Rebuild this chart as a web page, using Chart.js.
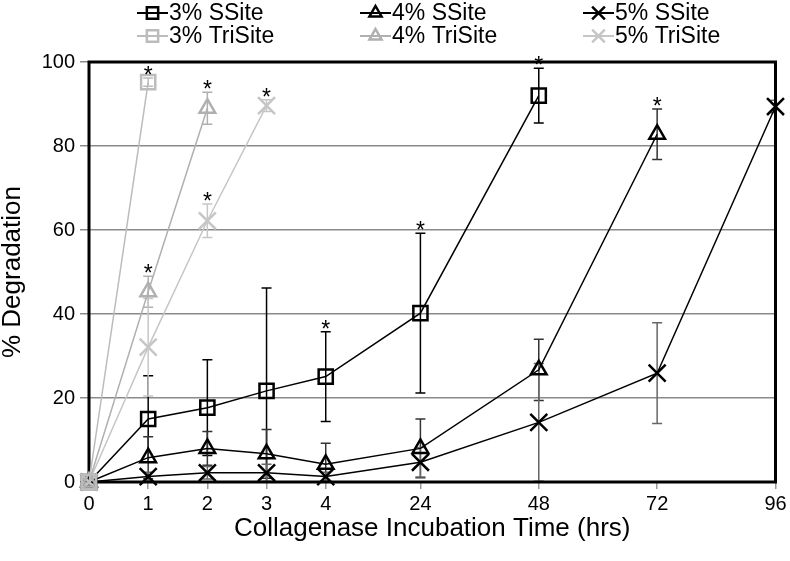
<!DOCTYPE html>
<html>
<head>
<meta charset="utf-8">
<script src="https://cdn.jsdelivr.net/npm/chart.js@4.4.1/dist/chart.umd.min.js"></script>
<style>
  html, body { margin: 0; padding: 0; background: #fff; }
  #wrap { width: 790px; height: 561px; }
</style>
</head>
<body>
<div id="wrap"><canvas id="c" width="790" height="561"></canvas></div>
<script>
// ---- categories / tick labels ----
const hours = ['0', '1', '2', '3', '4', '24', '48', '72', '96'];
// axis placement of each time label (the original axis is not evenly spaced)
const axisPos = [0, 1, 2, 3, 4, 5.6, 7.6, 9.6, 11.6];
const yTicks = [0, 20, 40, 60, 80, 100];

// ---- series (mean % degradation) ----
const ss3 = [0, 15.0, 17.7, 21.7, 25.1, 40.2, 92.0, null, null];
const ss4 = [0, 5.8, 8.0, 6.7, 4.2, 8.0, 26.7, 82.8, null];
const ss5 = [0, 1.3, 2.2, 2.2, 1.3, 4.7, 14.2, 25.9, 89.4];
const tri3 = [0, 95.2];
const tri4 = [0, 45.3, 89.0];
const tri5 = [0, 32.1, 62.2, 89.6];

// ---- error (± SD) ----
const ss3Err = [0, 10.3, 11.4, 24.5, 10.7, 19.0, 6.5, null, null];
const ss4Err = [0, 5.0, 4.0, 5.8, 5.0, 7.0, 7.3, 6.0, null];
const ss5Err = [0, 1.0, 1.5, 2.0, 1.0, 3.5, 14.0, 12.0, 1.5];
const tri3Err = [0, 1.0];
const tri4Err = [0, 3.7, 3.8];
const tri5Err = [0, 11.6, 4.0, 1.4];

// ---- significance markers (*) ----
const ss3Sig = [0, 0, 0, 0, 1, 1, 1, 0, 0];
const ss4Sig = [0, 0, 0, 0, 0, 0, 0, 1, 0];
const ss5Sig = [0, 0, 0, 0, 0, 0, 0, 0, 0];
const tri3Sig = [0, 1];
const tri4Sig = [0, 1, 1];
const tri5Sig = [0, 0, 1, 1];

const FONT = "'Liberation Sans', Arial, sans-serif";

function pts(vals) {
  const out = [];
  vals.forEach((v, i) => { if (v !== null && v !== undefined) out.push({ x: axisPos[i], y: v }); });
  return out;
}

function ds(label, vals, errs, sig, color, style, radius, lineW, errColor, order) {
  return {
    label, data: pts(vals), errs, sig, errColor,
    borderColor: color, backgroundColor: 'rgba(0,0,0,0)',
    pointBorderColor: color, pointBackgroundColor: 'rgba(0,0,0,0)',
    pointStyle: style, pointRadius: radius, pointHoverRadius: radius,
    pointBorderWidth: 2.5, borderWidth: lineW, tension: 0, clip: false, order
  };
}

const datasets = [
  ds('3% SSite', ss3, ss3Err, ss3Sig, '#000000', 'rect', 10, 1.5, '#000000', 3),
  ds('4% SSite', ss4, ss4Err, ss4Sig, '#000000', 'triangle', 9, 1.5, '#333333', 4),
  ds('5% SSite', ss5, ss5Err, ss5Sig, '#000000', 'crossRot', 12, 1.5, '#666666', 5),
  ds('3% TriSite', tri3, tri3Err, tri3Sig, '#bcbcbc', 'rect', 10, 1.5, '#bcbcbc', 0),
  ds('4% TriSite', tri4, tri4Err, tri4Sig, '#b0b0b0', 'triangle', 9, 1.5, '#b0b0b0', 1),
  ds('5% TriSite', tri5, tri5Err, tri5Sig, '#c6c6c6', 'crossRot', 12, 1.5, '#c6c6c6', 2)
];

function drawMarker(ctx, style, x, y, r) {
  ctx.beginPath();
  if (style === 'rect') {
    const s = r * Math.SQRT1_2;
    ctx.rect(x - s, y - s, 2 * s, 2 * s);
  } else if (style === 'triangle') {
    ctx.moveTo(x, y - r);
    ctx.lineTo(x + r * Math.sin(2 * Math.PI / 3), y - r * Math.cos(2 * Math.PI / 3));
    ctx.lineTo(x + r * Math.sin(4 * Math.PI / 3), y - r * Math.cos(4 * Math.PI / 3));
    ctx.closePath();
  } else if (style === 'crossRot') {
    const o = r * Math.SQRT1_2;
    ctx.moveTo(x - o, y - o); ctx.lineTo(x + o, y + o);
    ctx.moveTo(x - o, y + o); ctx.lineTo(x + o, y - o);
  }
  ctx.stroke();
}

const framePlugin = {
  id: 'frameAndErrors',
  beforeDatasetsDraw(chart) {
    const { ctx, chartArea: a, scales: { x, y } } = chart;
    // error bars
    ctx.save();
    ctx.beginPath();
    ctx.rect(a.left, a.top - 1, a.right - a.left, a.bottom - a.top + 2);
    ctx.clip();
    chart.data.datasets.forEach((d) => {
      ctx.strokeStyle = d.errColor;
      ctx.lineWidth = 1.5;
      d.data.forEach((p, i) => {
        const e = d.errs[i];
        if (!e) return;
        const px = x.getPixelForValue(p.x);
        const t = y.getPixelForValue(p.y + e);
        const b = y.getPixelForValue(p.y - e);
        ctx.beginPath();
        ctx.moveTo(px, t); ctx.lineTo(px, b);
        ctx.moveTo(px - 5, t); ctx.lineTo(px + 5, t);
        ctx.moveTo(px - 5, b); ctx.lineTo(px + 5, b);
        ctx.stroke();
      });
    });
    ctx.restore();
    // plot frame
    ctx.save();
    ctx.strokeStyle = '#000';
    ctx.lineWidth = 3;
    ctx.strokeRect(a.left, a.top, a.right - a.left, a.bottom - a.top);
    ctx.restore();
  },
  afterDraw(chart) {
    const { ctx, scales: { x, y } } = chart;
    // significance stars
    ctx.save();
    ctx.fillStyle = '#000';
    ctx.font = '23px ' + FONT;
    ctx.textAlign = 'center';
    ctx.textBaseline = 'alphabetic';
    chart.data.datasets.forEach((d) => {
      d.data.forEach((p, i) => {
        if (!d.sig[i]) return;
        const top = y.getPixelForValue(p.y + (d.errs[i] || 0));
        ctx.fillText('*', x.getPixelForValue(p.x), top + 5);
      });
    });
    ctx.restore();
    // legend (line + marker + label)
    const colX = [137, 360, 583];
    const rowY = [13, 36];
    ctx.save();
    ctx.font = '23px ' + FONT;
    ctx.textBaseline = 'middle';
    ctx.textAlign = 'left';
    chart.data.datasets.forEach((d, i) => {
      const cx = colX[i % 3], cy = rowY[Math.floor(i / 3)];
      ctx.strokeStyle = d.borderColor;
      ctx.lineWidth = 2;
      ctx.beginPath(); ctx.moveTo(cx, cy); ctx.lineTo(cx + 31, cy); ctx.stroke();
      ctx.lineWidth = 2.5;
      const r = d.pointStyle === 'crossRot' ? 9 : (d.pointStyle === 'rect' ? 8 : 7);
      drawMarker(ctx, d.pointStyle, cx + 15.5, cy, r);
      ctx.fillStyle = '#000';
      ctx.fillText(d.label, cx + 32, cy + 1);
    });
    ctx.restore();
  }
};

new Chart(document.getElementById('c'), {
  type: 'line',
  data: { datasets },
  plugins: [framePlugin],
  options: {
    responsive: false,
    animation: false,
    events: [],
    layout: { padding: { top: 62, right: 13, left: 0, bottom: 0 } },
    plugins: { legend: { display: false }, tooltip: { enabled: false } },
    scales: {
      x: {
        type: 'linear', min: axisPos[0], max: axisPos[axisPos.length - 1],
        afterBuildTicks(axis) { axis.ticks = axisPos.map(v => ({ value: v })); },
        afterFit(scale) { scale.height = 79; },
        ticks: {
          callback: (v) => hours[axisPos.indexOf(v)],
          font: { family: FONT, size: 20 }, color: '#000', padding: 3,
          maxRotation: 0, autoSkip: false
        },
        grid: { drawOnChartArea: false, drawTicks: true, tickLength: 7, color: '#9a9a9a', lineWidth: 1.5 },
        border: { display: false },
        title: {
          display: true, text: 'Collagenase Incubation Time (hrs)',
          font: { family: FONT, size: 26 }, color: '#000', padding: { top: 4, bottom: 17 }
        }
      },
      y: {
        min: 0, max: 100,
        afterBuildTicks(axis) { axis.ticks = yTicks.map(v => ({ value: v })); },
        afterFit(scale) { scale.width = 89; },
        ticks: { font: { family: FONT, size: 20 }, color: '#000', padding: 5 },
        grid: { color: '#8a8a8a', lineWidth: 1.5, tickLength: 9 },
        border: { display: false },
        title: {
          display: true, text: '% Degradation',
          font: { family: FONT, size: 26, lineHeight: 1 }, color: '#000', padding: { top: 0, bottom: 0 }
        }
      }
    }
  }
});
</script>
</body>
</html>
